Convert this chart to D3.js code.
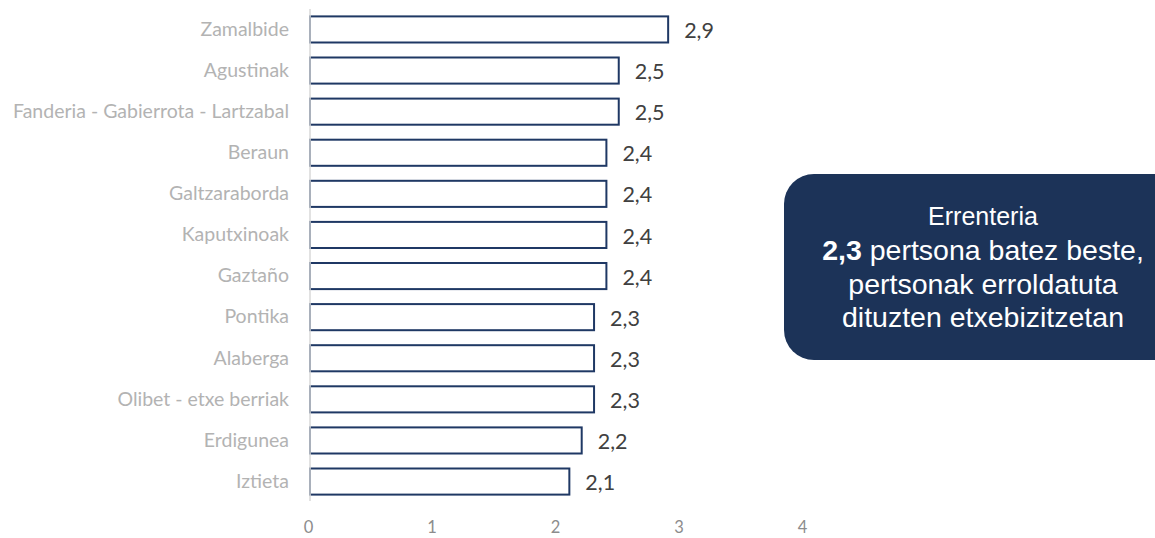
<!DOCTYPE html>
<html>
<head>
<meta charset="utf-8">
<script src="https://cdn.jsdelivr.net/npm/d3@7"></script>
<style>
  html, body { margin: 0; padding: 0; background: #fff; }
  svg { display: block; }
</style>
</head>
<body>
<svg id="chart" width="1155" height="538"></svg>
<script>
// Average household size by neighbourhood
const neighbourhoods = [
  "Zamalbide", "Agustinak", "Fanderia - Gabierrota - Lartzabal", "Beraun",
  "Galtzaraborda", "Kaputxinoak", "Gaztaño", "Pontika", "Alaberga",
  "Olibet - etxe berriak", "Erdigunea", "Iztieta"
];
const householdSize = [2.9, 2.5, 2.5, 2.4, 2.4, 2.4, 2.4, 2.3, 2.3, 2.3, 2.2, 2.1];
const xTicks = [0, 1, 2, 3, 4];
const calloutLines = ["Errenteria", "pertsona batez beste,", "pertsonak erroldatuta", "dituzten etxebizitzetan"];
const townValue = 2.3;

const fmt = v => d3.format(".1f")(v).replace(".", ",");

const svg = d3.select("#chart");
const plotLeft = 310, plotTop = 9, plotBottom = 502;
const labelFont = "Lato, 'Open Sans', sans-serif";

const x = d3.scaleLinear().domain([0, 4]).range([plotLeft, plotLeft + 494]);
const y = d3.scaleBand().domain(neighbourhoods).range([plotTop, plotBottom]).paddingInner(0.365).paddingOuter(0.18);

// category labels
const yAxis = svg.append("g")
  .attr("transform", `translate(${plotLeft},0)`)
  .call(d3.axisLeft(y).tickSize(0).tickPadding(21));
yAxis.select(".domain").remove();
yAxis.selectAll("text")
  .attr("fill", "#b3b3b3")
  .attr("font-family", labelFont)
  .attr("font-size", "19.5px");

// value axis tick labels
const xAxis = svg.append("g")
  .attr("transform", `translate(0,${plotBottom})`)
  .call(d3.axisBottom(x).tickValues(xTicks).tickFormat(d3.format("d")).tickSize(0).tickPadding(19));
xAxis.select(".domain").remove();
xAxis.selectAll("text")
  .attr("x", -2)
  .attr("fill", "#8c8c8c")
  .attr("font-family", labelFont)
  .attr("font-size", "16.5px");

// bars
svg.append("g").selectAll("rect")
  .data(neighbourhoods)
  .join("rect")
  .attr("x", x(0))
  .attr("y", d => y(d))
  .attr("width", (d, i) => x(householdSize[i]) - x(0))
  .attr("height", y.bandwidth())
  .attr("fill", "#fff")
  .attr("stroke", "#1f3864")
  .attr("stroke-width", 2);

// vertical baseline
svg.append("line")
  .attr("x1", x(0)).attr("x2", x(0))
  .attr("y1", plotTop).attr("y2", plotBottom - 1)
  .attr("stroke", "#d9d9d9").attr("stroke-width", 1.5);

// value labels
svg.append("g").selectAll("text")
  .data(neighbourhoods)
  .join("text")
  .attr("x", (d, i) => x(householdSize[i]) + 16)
  .attr("y", d => y(d) + y.bandwidth() / 2)
  .attr("dy", "0.4em")
  .attr("fill", "#404040")
  .attr("font-family", labelFont)
  .attr("font-size", "21.5px")
  .text((d, i) => fmt(householdSize[i]));

// callout box for the town average
const box = svg.append("g");
box.append("rect")
  .attr("x", 784).attr("y", 174)
  .attr("width", 420).attr("height", 186)
  .attr("rx", 30).attr("ry", 30)
  .attr("fill", "#1c3358");

const cx = 983;
const lineY = [225, 260, 294, 327];
const tf = "'Liberation Sans', Arial, sans-serif";
box.append("text")
  .attr("x", cx).attr("y", lineY[0])
  .attr("text-anchor", "middle").attr("fill", "#fff")
  .attr("font-family", tf).attr("font-size", "25px")
  .text(calloutLines[0]);
const l2 = box.append("text")
  .attr("x", cx).attr("y", lineY[1])
  .attr("text-anchor", "middle").attr("fill", "#fff")
  .attr("font-family", tf).attr("font-size", "28.5px");
l2.append("tspan").attr("font-weight", "bold").text(fmt(townValue));
l2.append("tspan").text(" " + calloutLines[1]);
[2, 3].forEach(i => {
  box.append("text")
    .attr("x", cx).attr("y", lineY[i])
    .attr("text-anchor", "middle").attr("fill", "#fff")
    .attr("font-family", tf).attr("font-size", "28.5px")
    .text(calloutLines[i]);
});
</script>
</body>
</html>
